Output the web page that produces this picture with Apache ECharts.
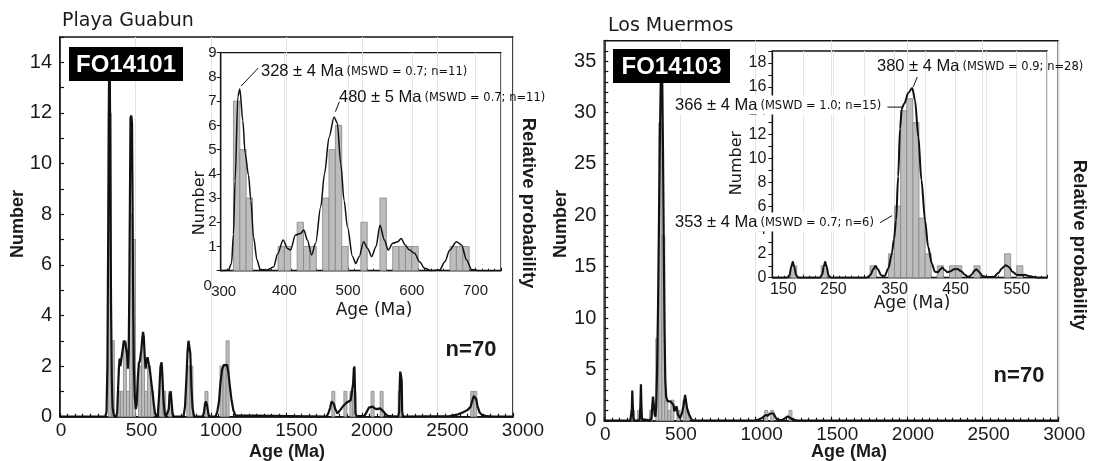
<!DOCTYPE html>
<html>
<head>
<meta charset="utf-8">
<script src="https://cdn.jsdelivr.net/npm/echarts@6/dist/echarts.min.js"></script>
<style>
  html, body { margin: 0; padding: 0; background: #fff; }
  #c { width: 1094px; height: 461px; }
</style>
</head>
<body>
<div id="c"></div>
<script>
// Detrital zircon U-Pb ages: histograms [binFrom, binTo, count] and probability curves [age, value]

// FO14101 (Playa Guabun), full range, 20 Ma bins
const guabunBins = [
  [320,340,12],[340,360,3],[380,400,1],[400,420,1],[420,440,3],[440,460,1],[460,480,8],[480,500,7],
  [520,540,2],[540,560,3],[560,580,1],[580,600,2],[600,620,1],[660,680,2],[680,700,1],[720,740,1],
  [840,860,2],[860,880,2],[960,980,1],[1060,1080,2],[1080,1100,2],[1100,1120,3],
  [1800,1820,1],[1880,1900,1],[1920,1940,1],[1940,1960,1],[2060,2080,1],[2120,2140,1],
  [2240,2260,1],[2720,2740,1],[2740,2760,1]
];
const guabunCurve = [
  [0,0],[300,0],[308,0.2],[314,2],[319,7],[323,12],[326,14.3],[330,13.5],[334,9],[338,4.5],[343,1.5],
  [348,0.4],[356,0.05],[372,0],[379,0.2],[384,1.0],[390,1.9],[395,2.3],[400,2.0],[407,2.3],[414,2.6],
  [423,3.0],[433,2.9],[443,2.5],[450,1.9],[455,2.6],[459,5],[463,8.5],[467,11.8],[472,11.9],[477,11.6],
  [480,9],[484,5],[489,2],[495,0.8],[502,0.3],[508,0.5],[515,1.5],[522,2.1],[529,2.2],[538,2.6],
  [545,3.1],[550,3.35],[555,3.15],[561,2.4],[567,1.9],[573,2.2],[580,2.35],[588,2.35],[596,1.8],
  [604,1.4],[612,1.0],[621,0.5],[629,0.15],[637,0],[648,0.1],[656,0.8],[662,1.6],[668,2.05],
  [673,2.15],[679,1.5],[686,0.6],[694,0.1],[702,0],[714,0],[720,0.3],[726,0.85],[732,1.0],
  [738,0.65],[745,0.15],[752,0],[818,0],[828,0.4],[837,1.5],[845,2.6],[851,3.0],[857,3.05],
  [863,2.5],[870,1.2],[878,0.35],[888,0],[944,0],[953,0.15],[960,0.5],[967,0.6],[974,0.45],
  [983,0.1],[992,0],[1030,0],[1042,0.2],[1053,0.6],[1062,1.3],[1073,1.85],[1084,2.04],[1096,2.1],
  [1106,2.05],[1115,1.75],[1124,1.25],[1135,0.7],[1148,0.25],[1162,0.05],[1175,0],[1765,0],
  [1778,0.15],[1789,0.35],[1798,0.6],[1806,0.66],[1814,0.5],[1823,0.3],[1838,0.13],[1855,0.26],
  [1870,0.38],[1882,0.46],[1897,0.55],[1911,0.6],[1925,0.65],[1935,0.7],[1941,1.3],[1946,1.9],
  [1950,1.98],[1953,1.2],[1957,0.13],[1965,0.02],[2015,0.02],[2032,0.2],[2046,0.36],[2058,0.42],
  [2070,0.4],[2084,0.33],[2098,0.3],[2110,0.32],[2120,0.33],[2133,0.28],[2146,0.18],[2162,0.07],
  [2178,0.02],[2240,0],[2246,0.2],[2250,1.3],[2253,1.78],[2259,1.6],[2263,1.4],[2266,0.2],[2272,0],
  [2580,0.02],[2630,0.08],[2670,0.18],[2700,0.27],[2718,0.38],[2730,0.62],[2740,0.82],[2749,0.88],
  [2756,0.7],[2765,0.42],[2778,0.18],[2795,0.07],[2825,0.02],[2870,0],[3000,0]
];

// FO14101 detail, 10 Ma bins
const guabunInsetBins = [
  [320,330,7],[330,340,5],[340,350,3],[390,400,1],[400,410,1],[420,430,2],[430,440,1],[440,450,1],
  [460,470,3],[470,480,5],[480,490,6],[490,500,1],[520,530,2],[550,560,3],[570,580,1],[580,590,1],
  [590,600,1],[600,610,1],[660,670,1],[670,680,1],[680,690,1]
];
const guabunInsetCurve = [
  [300,0],[312,0.02],[317,0.3],[320,1.5],[322.6,3.7],[327,7.2],[330,7.5],[334.7,6.2],[338.4,4.85],
  [343.6,3.95],[347.4,2.9],[351.5,1.4],[357,0.44],[362,0.05],[372,0.02],[383,0.15],[389.5,0.7],
  [398,1.27],[405,0.92],[409.5,0.85],[417.4,1.47],[425.3,1.54],[430.5,1.68],[436,1.27],[442.7,0.65],
  [449,1.13],[457,2.64],[463,4.0],[470,5.5],[478,6.35],[483,6.1],[488.5,4.4],[493.7,2.9],[499,1.8],
  [507,0.58],[512,0.3],[517.4,0.58],[524.3,1.2],[530.6,0.92],[537,0.58],[543.8,1.0],[550,1.88],
  [557,1.27],[563,0.85],[570,1.13],[578,1.2],[583.3,1.33],[589.6,1.06],[596.4,0.85],[604.3,0.72],
  [612.2,0.37],[620,0.1],[630.6,0],[643.8,0.03],[651.7,0.37],[659.6,0.85],[670,1.2],[678,1.06],
  [686,0.44],[693.8,0.05],[705,0],[740,0]
];

// FO14103 (Los Muermos), full range, 20 Ma bins
const muermosBins = [
  [180,200,1],[220,240,1],[300,320,1],[340,360,8],[360,380,29],[380,400,18],[400,420,2],[420,440,1],
  [440,460,2],[480,500,1],[520,540,2],[540,560,1],[1060,1080,1],[1100,1120,1],[1220,1240,1]
];
const muermosCurve = [
  [0,0],[172,0],[178,0.1],[182,1.2],[185,2.93],[188,1.6],[192,0.2],[197,0],[230,0],[235,0.3],
  [239,1.8],[242,3.55],[245,1.6],[249,0.15],[254,0],[305,0],[312,0.3],[317,1.5],[322,2.35],[327,1.6],
  [333,0.6],[338,0.4],[343,1.5],[349,5],[355,11],[361,19],[367,27],[373,33],[378,35],[383,33],
  [388,26],[393,17],[398,9],[403,4],[409,2.3],[418,1.9],[430,2.0],[440,1.85],[451,1.9],[458,1.5],
  [463,0.9],[470,1.2],[478,1.4],[486,0.6],[493,0.45],[500,0.25],[507,0.2],[515,0.8],[525,1.6],
  [534,2.5],[540,2.4],[547,1.2],[555,0.8],[562,0.55],[570,0.3],[580,0.05],[600,0],[990,0],
  [1020,0.1],[1045,0.3],[1065,0.55],[1080,0.5],[1095,0.7],[1108,0.85],[1118,0.7],[1132,0.3],
  [1150,0.06],[1175,0.05],[1195,0.25],[1212,0.42],[1225,0.35],[1245,0.12],[1275,0.02],[1300,0],[3000,0]
];

// FO14103 detail, 10 Ma bins
const muermosInsetBins = [
  [180,190,1],[230,240,1],[310,320,1],[340,350,2],[350,360,6],[360,370,14],[370,380,15],[380,390,13],
  [390,400,5],[400,410,2],[420,430,1],[440,450,1],[450,460,1],[480,490,1],[530,540,2],[550,560,1]
];
const muermosInsetCurve = [
  [150,0],[174,0],[178,0.2],[181,0.9],[183.5,1.34],[186,0.9],[189,0.2],[193,0],[228,0],[232,0.3],
  [234,0.9],[236.5,1.34],[239,0.9],[242,0.2],[246,0],[305,0],[311,0.25],[315,0.7],[319,0.98],[323,0.7],
  [328,0.2],[334,0.15],[340,0.8],[345.6,2.0],[349,3.2],[352.5,4.8],[356,8.5],[359,12.5],[362,14.2],
  [366,14.6],[372.6,15.5],[379,15.9],[383.5,14.9],[389,11.8],[394,8.2],[400,4.8],[405,2.6],[411,1.2],
  [416,0.5],[421,0.45],[425,0.7],[428,0.85],[432,0.65],[437,0.45],[442,0.55],[447,0.7],[453,0.72],
  [459,0.55],[465,0.25],[471,0.05],[476,0.25],[481,0.6],[484,0.7],[488,0.5],[494,0.15],[500,0.05],
  [512,0.05],[520,0.4],[526,0.8],[532,1.05],[537,0.9],[543,0.5],[550,0.25],[557,0.22],[563,0.25],
  [570,0.15],[578,0.05],[586,0],[600,0]
];

// Weighted-mean age labels: [age, curve value the leader points at]
const guabunAges = [[329, 7.5], [480, 6.4]];
const muermosAges = [[379, 15.9], [363, 14.3], [346, 5.2]];

const AX = '#141414';
const TXT = '#1a1a1a';
const SANS = '"Liberation Sans", Arial, Helvetica, sans-serif';
const WIDE = '"DejaVu Sans", Verdana, sans-serif';

function histogram(bins, idx) {
  return {
    type: 'custom', xAxisIndex: idx, yAxisIndex: idx, data: bins, z: 2, silent: true,
    renderItem: (params, api) => {
      const tl = api.coord([api.value(0), api.value(2)]);
      const br = api.coord([api.value(1), 0]);
      return {
        type: 'rect',
        shape: { x: tl[0], y: tl[1], width: br[0] - tl[0], height: br[1] - tl[1] },
        style: { fill: '#bdbdbd', stroke: '#868686', lineWidth: 0.8 }
      };
    }
  };
}
function curve(points, idx, width, smooth) {
  return {
    type: 'line', xAxisIndex: idx, yAxisIndex: idx, data: points, symbol: 'none', showSymbol: false,
    z: 3, silent: true, smooth: smooth, smoothMonotone: 'x',
    lineStyle: { color: '#111', width: width }
  };
}
function rich(size, pad) {
  return { fontSize: size, fontFamily: SANS, color: TXT, padding: pad };
}
function mainX(idx, s3, s4) {
  return {
    type: 'value', gridIndex: idx, min: 0, max: 3000, interval: 500,
    axisLine: { lineStyle: { color: AX, width: 1.6 } },
    axisTick: { inside: true, length: 4, lineStyle: { color: AX, width: 1.2 } },
    minorTick: { show: true, splitNumber: 10, length: 3, lineStyle: { color: AX, width: 1.2 } },
    splitLine: { show: true, lineStyle: { color: '#e3e3e3', width: 1 } },
    axisLabel: {
      margin: 5, fontSize: 19, fontFamily: SANS, color: TXT, showMinLabel: true, showMaxLabel: true,
      formatter: v => v === 0 ? '{a|0}' : (v < 1000 ? '{b|' + v + '}' : '{c|' + v + '}'),
      rich: { a: rich(19, [0, 0, 0, 2]), b: rich(19, [0, 0, 0, s3 * 2]), c: rich(19, [0, 0, 0, s4 * 2]) }
    }
  };
}
function mainY(idx, max, step) {
  return {
    type: 'value', gridIndex: idx, min: 0, max: max, interval: 1,
    axisLine: { show: true, lineStyle: { color: AX, width: 1.6 } },
    axisTick: { show: true, inside: true, length: 4, lineStyle: { color: AX, width: 1.2 } },
    splitLine: { show: false },
    axisLabel: {
      margin: 8, fontSize: 20, fontFamily: SANS, color: TXT, showMinLabel: true,
      formatter: v => (v % step === 0 && v < max) ? String(v) : ''
    }
  };
}

const option = {
  animation: false,
  backgroundColor: '#fff',
  grid: [
    { left: 60, top: 37, width: 453, height: 379.7, show: true, borderColor: AX, borderWidth: 1.6 },
    { left: 220.7, top: 52.7, width: 280.3, height: 218, show: true, borderColor: AX, borderWidth: 1.3 },
    { left: 604.3, top: 40.7, width: 454, height: 380, show: true, borderColor: AX, borderWidth: 1.6 },
    { left: 772.3, top: 51, width: 275, height: 226.7, show: true, borderColor: AX, borderWidth: 1.3 }
  ],
  xAxis: [
    mainX(0, 6, 10),
    {
      // the corner values (300 and 0) of this detail plot are written separately below
      type: 'value', gridIndex: 1, min: 300, max: 740, interval: 100,
      axisLine: { lineStyle: { color: AX, width: 1.3 } },
      axisTick: { inside: true, length: 3, lineStyle: { color: AX } },
      minorTick: { show: true, splitNumber: 10, length: 2, lineStyle: { color: AX } },
      splitLine: { show: true, lineStyle: { color: '#e6e6e6' } },
      axisLabel: {
        margin: 13, fontSize: 15, fontFamily: SANS, color: TXT, showMaxLabel: false,
        formatter: v => (v === 300 || v > 700) ? '' : String(v)
      }
    },
    mainX(2, 1, 6),
    {
      type: 'value', gridIndex: 3, min: 150, max: 600, interval: 50,
      axisLine: { lineStyle: { color: AX, width: 1.3 } },
      axisTick: { inside: true, length: 3, lineStyle: { color: AX } },
      minorTick: { show: true, splitNumber: 5, length: 2, lineStyle: { color: AX } },
      splitLine: { show: true, lineStyle: { color: '#e6e6e6' } },
      axisLabel: {
        margin: 4, fontSize: 16, fontFamily: SANS, color: TXT, showMinLabel: true,
        formatter: v => (v - 150) % 100 === 0 && v < 600 ? (v === 150 ? '{f|150}' : String(v)) : '',
        rich: { f: rich(16, [0, 0, 0, 22]) }
      }
    }
  ],
  yAxis: [
    mainY(0, 15, 2),
    {
      type: 'value', gridIndex: 1, min: 0, max: 9, interval: 1,
      axisLine: { show: true, lineStyle: { color: AX, width: 1.3 } },
      axisTick: { show: true, inside: false, length: 4, lineStyle: { color: AX } },
      splitLine: { show: false },
      axisLabel: {
        margin: 4, fontSize: 15, fontFamily: SANS, color: TXT,
        formatter: v => v === 0 ? '' : String(v)
      }
    },
    mainY(2, 37, 5),
    {
      type: 'value', gridIndex: 3, min: 0, max: 19, interval: 1,
      axisLine: { show: true, lineStyle: { color: AX, width: 1.3 } },
      axisTick: { show: true, inside: false, length: 4, lineStyle: { color: AX } },
      splitLine: { show: false },
      axisLabel: {
        margin: 6, fontSize: 16, fontFamily: SANS, color: TXT, showMinLabel: true,
        formatter: v => (v % 2 === 0 && v < 19) ? String(v) : ''
      }
    }
  ],
  series: [
    histogram(guabunBins, 0), curve(guabunCurve, 0, 2.2, false),
    histogram(guabunInsetBins, 1), curve(guabunInsetCurve, 1, 1.5, 0.3),
    histogram(muermosBins, 2), curve(muermosCurve, 2, 2.2, false),
    histogram(muermosInsetBins, 3), curve(muermosInsetCurve, 3, 2.0, 0.3)
  ]
};

const chart = echarts.init(document.getElementById('c'));
chart.setOption(option);

// ---- titles, axis names, sample tags and age labels ----
function text(x, y, str, size, family, opts) {
  opts = opts || {};
  return {
    type: 'text', x: x, y: y, z: 60, rotation: opts.rotation || 0, silent: true,
    style: {
      text: str, fontSize: size, fontFamily: family, fontWeight: opts.weight || 'normal',
      fill: opts.fill || TXT, align: opts.align || 'center', verticalAlign: 'middle',
      backgroundColor: opts.bg, padding: opts.pad
    }
  };
}
function ageLabel(x, y, age, stats, bg) {
  return {
    type: 'text', x: x, y: y, z: 70, silent: true,
    style: {
      text: '{a|' + age + '}{b|' + stats + '}',
      align: 'left', verticalAlign: 'middle',
      backgroundColor: bg ? '#fff' : null, padding: bg ? [1, 2, 1, 2] : 0,
      rich: {
        a: { fontSize: 16.5, fontFamily: SANS, fill: '#111', verticalAlign: 'bottom' },
        b: { fontSize: 11.5, fontFamily: WIDE, fill: '#111', verticalAlign: 'bottom', padding: [0, 0, 1, 3] }
      }
    }
  };
}
function leader(p, dx1, dy1, dx2, dy2) {
  return {
    type: 'line', z: 65, silent: true,
    shape: { x1: p[0] + dx1, y1: p[1] + dy1, x2: p[0] + dx2, y2: p[1] + dy2 },
    style: { stroke: '#111', lineWidth: 1 }
  };
}
function tag(x, y, w, h, label) {
  return [
    { type: 'rect', z: 80, silent: true, shape: { x: x, y: y, width: w, height: h }, style: { fill: '#000' } },
    { type: 'text', z: 81, silent: true, x: x + w / 2, y: y + h / 2 + 1,
      style: { text: label, fontSize: 24, fontWeight: 'bold', fontFamily: SANS, fill: '#fff', align: 'center', verticalAlign: 'middle' } }
  ];
}

const px = (g, pt) => chart.convertToPixel({ gridIndex: g }, pt);
const g1a = px(1, guabunAges[0]), g1b = px(1, guabunAges[1]);
const m3a = px(3, muermosAges[0]), m3b = px(3, muermosAges[1]), m3c = px(3, muermosAges[2]);
const insetOrigin = px(1, [300, 0]);

const graphics = [
  text(62, 21, 'Playa Guabun', 19, WIDE, { align: 'left' }),
  text(608, 26, 'Los Muermos', 19, WIDE, { align: 'left' }),
  text(18, 224, 'Number', 18, SANS, { weight: 'bold', rotation: Math.PI / 2 }),
  text(561, 224, 'Number', 18, SANS, { weight: 'bold', rotation: Math.PI / 2 }),
  text(287, 452, 'Age (Ma)', 18, SANS, { weight: 'bold' }),
  text(849, 452, 'Age (Ma)', 18, SANS, { weight: 'bold' }),
  text(528, 203, 'Relative probability', 18.5, SANS, { weight: 'bold', rotation: -Math.PI / 2 }),
  text(1079, 245, 'Relative probability', 18.5, SANS, { weight: 'bold', rotation: -Math.PI / 2 }),
  text(471, 350, 'n=70', 22, SANS, { weight: 'bold' }),
  text(1019, 376, 'n=70', 22, SANS, { weight: 'bold' }),
  text(200, 203, 'Number', 16, WIDE, { rotation: Math.PI / 2 }),
  text(737, 163, 'Number', 16, WIDE, { rotation: Math.PI / 2 }),
  text(374, 311, 'Age (Ma)', 17, WIDE),
  text(912, 304, 'Age (Ma)', 17, WIDE),
  text(insetOrigin[0] - 13, insetOrigin[1] + 15, '0', 15, SANS),
  text(insetOrigin[0] + 3, insetOrigin[1] + 21, '300', 15, SANS),
  ...tag(69, 47, 114, 34, 'FO14101'),
  ...tag(613, 49, 117, 34, 'FO14103'),
  leader(g1a, 2, -3, 19, -21),
  leader(g1b, 0, -4, 4, -14),
  ageLabel(261, 71, '328 ± 4 Ma', '(MSWD = 0.7; n=11)', false),
  ageLabel(339, 97, '480 ± 5 Ma', '(MSWD = 0.7; n=11)', false),
  leader(m3a, 1, -1, 5, -11),
  leader(m3b, -15, 0, 0, 0),
  leader(m3c, -12, 7, 0, 0),
  ageLabel(877, 66, '380 ± 4 Ma', '(MSWD = 0.9; n=28)', false),
  ageLabel(673, 105, '366 ± 4 Ma', '(MSWD = 1.0; n=15)', true),
  ageLabel(673, 222, '353 ± 4 Ma', '(MSWD = 0.7; n=6)', true)
];
chart.setOption({ graphic: graphics });
</script>
</body>
</html>
